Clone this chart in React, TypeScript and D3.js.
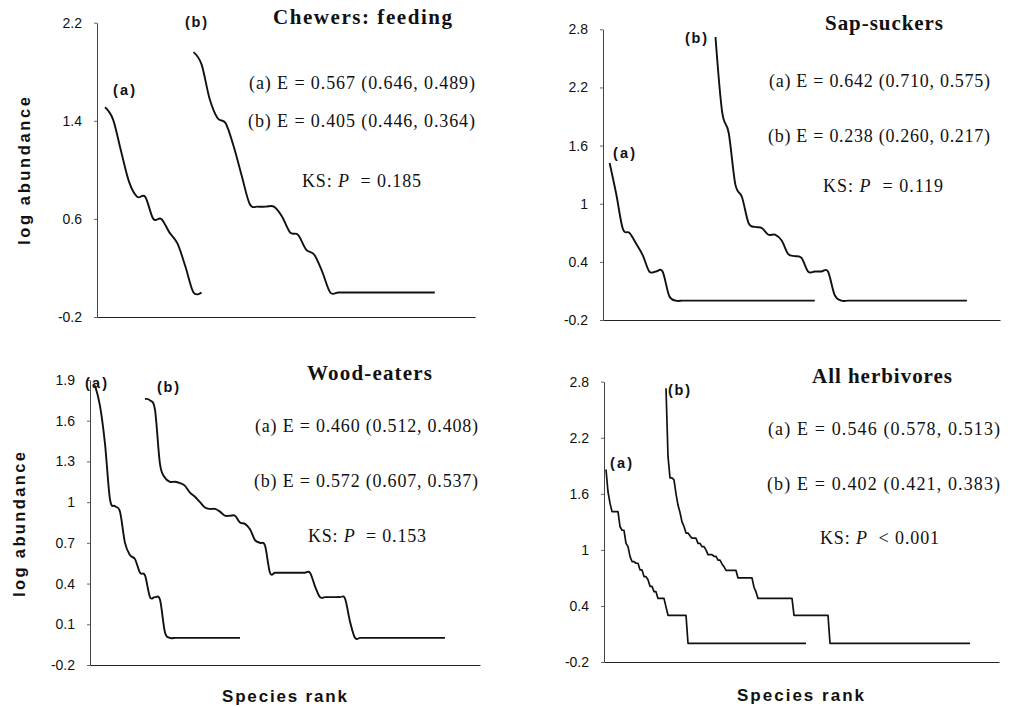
import React, { useEffect, useRef } from "react";
import * as d3 from "d3";

const W = 1011;
const H = 707;

// log abundance by species rank
const chewA = [1.51, 1.41, 1.15, 0.9, 0.78, 0.78, 0.6, 0.6, 0.49, 0.4, 0.21, 0, 0];
const chewB = [
  1.96, 1.86, 1.58, 1.42, 1.38, 1.19, 0.95, 0.72, 0.7, 0.7, 0.7, 0.62, 0.49, 0.47, 0.35, 0.31, 0.17,
  0, 0, 0, 0, 0, 0, 0, 0, 0, 0, 0, 0, 0, 0,
];
const sapA = [
  1.42, 1.1, 0.74, 0.7, 0.59, 0.47, 0.3, 0.3, 0.3, 0.05,
  0, 0, 0, 0, 0, 0, 0, 0, 0, 0, 0, 0, 0, 0, 0, 0, 0, 0, 0, 0, 0, 0,
];
const sapB = [
  2.72, 1.95, 1.73, 1.2, 1.07, 0.8, 0.76, 0.75, 0.68, 0.68, 0.62, 0.48, 0.46, 0.44, 0.3, 0.3, 0.3, 0.3, 0.06,
  0, 0, 0, 0, 0, 0, 0, 0, 0, 0, 0, 0, 0, 0, 0, 0, 0, 0, 0, 0,
];
const woodA = [
  1.86, 1.71, 1.43, 1.02, 0.97, 0.93, 0.7, 0.61, 0.58, 0.48, 0.46, 0.3, 0.3, 0.28, 0.04,
  0, 0, 0, 0, 0, 0, 0, 0, 0, 0, 0, 0, 0, 0, 0,
];
const woodB = [
  1.76, 1.75, 1.68, 1.28, 1.18, 1.15, 1.15, 1.14, 1.12, 1.07, 1.04, 1.0, 0.96, 0.95, 0.95, 0.93, 0.9, 0.9, 0.9,
  0.85, 0.84, 0.8, 0.72, 0.7, 0.68, 0.48, 0.48, 0.48, 0.48, 0.48, 0.48, 0.48, 0.48, 0.48, 0.38,
  0.3, 0.3, 0.3, 0.3, 0.3, 0.29, 0.12,
  0, 0, 0, 0, 0, 0, 0, 0, 0, 0, 0, 0, 0, 0, 0, 0, 0, 0, 0,
];
// all herbivores: abundance classes (log) and number of species in each
const herbALevels = [1.86, 1.62, 1.5, 1.41, 1.25, 1.21, 1.07, 1.035, 0.93, 0.875, 0.857, 0.786, 0.714, 0.68, 0.61, 0.553, 0.48, 0.39, 0.3, 0];
const herbACounts = [1, 1, 1, 4, 1, 2, 1, 1, 1, 2, 2, 2, 2, 1, 2, 2, 4, 1, 10, 60];
const herbBLevels = [2.73, 2.0, 1.77, 1.75, 1.6, 1.48, 1.4, 1.3, 1.25, 1.18, 1.15, 1.125, 1.07, 1.035, 1.0, 0.95, 0.93, 0.89, 0.85, 0.82, 0.78, 0.7, 0.6, 0.55, 0.48, 0.3, 0];
const herbBCounts = [1, 1, 2, 1, 1, 1, 1, 1, 1, 2, 1, 3, 2, 2, 1, 3, 2, 2, 1, 1, 6, 8, 1, 1, 18, 18, 71];

const chewTicks = [-0.2, 0.6, 1.4, 2.2];
const sapTicks = [-0.2, 0.4, 1, 1.6, 2.2, 2.8];
const woodTicks = [-0.2, 0.1, 0.4, 0.7, 1, 1.3, 1.6, 1.9];
const herbTicks = [-0.2, 0.4, 1, 1.6, 2.2, 2.8];

const titles = ["Chewers: feeding", "Sap-suckers", "Wood-eaters", "All herbivores"];
const statsA = ["(a) E = 0.567 (0.646, 0.489)", "(a) E = 0.642 (0.710, 0.575)", "(a) E = 0.460 (0.512, 0.408)", "(a) E = 0.546 (0.578, 0.513)"];
const statsB = ["(b) E = 0.405 (0.446, 0.364)", "(b) E = 0.238 (0.260, 0.217)", "(b) E = 0.572 (0.607, 0.537)", "(b) E = 0.402 (0.421, 0.383)"];
const ksP = ["= 0.185", "= 0.119", "= 0.153", "< 0.001"];

const expand = (levels: number[], counts: number[]) =>
  levels.flatMap((v, i) => Array(counts[i]).fill(v));

const sans = "'Liberation Sans', Arial, sans-serif";
const serif = "'Liberation Serif', 'Times New Roman', serif";

const panels = [
  {
    ticks: chewTicks, a: chewA, b: chewB, aStart: 1, bStart: 12, xMax: 47, smooth: true,
    box: { left: 97, right: 475, top: 22.7, bottom: 317 },
    title: [273, 24, 179], sa: [249, 88.5, 226], sb: [248, 127, 227], ks: [302, 187, 119],
    la: [113, 94.5], lb: [185, 26.5], yTitle: [30, 171, 148], xTitle: null,
  },
  {
    ticks: sapTicks, a: sapA, b: sapB, aStart: 1, bStart: 17, xMax: 60, smooth: true,
    box: { left: 603, right: 1000, top: 29.3, bottom: 320 },
    title: [825, 30, 118], sa: [769, 87, 221], sb: [768, 142, 222], ks: [823, 191.5, 120],
    la: [613, 158], lb: [685, 42.5], yTitle: null, xTitle: null,
  },
  {
    ticks: woodTicks, a: woodA, b: woodB, aStart: 1, bStart: 11, xMax: 78, smooth: true,
    box: { left: 90, right: 480, top: 380, bottom: 665 },
    title: [307, 380, 125], sa: [255, 432, 223], sb: [254, 486.5, 224], ks: [308, 542, 118],
    la: [85, 388], lb: [157, 392], yTitle: [25, 524.5, 145], xTitle: [222, 701.5, 125],
  },
  {
    ticks: herbTicks, a: expand(herbALevels, herbACounts), b: expand(herbBLevels, herbBCounts),
    aStart: 1, bStart: 31, xMax: 197.5, smooth: false,
    box: { left: 604, right: 999, top: 381.7, bottom: 662 },
    title: [812, 383, 140], sa: [768, 435, 232], sb: [767, 490, 233], ks: [820, 544, 119],
    la: [610, 467.5], lb: [668, 395], yTitle: null, xTitle: [737, 700.5, 127],
  },
];

const fmt = (v: number) => String(+v.toFixed(1));

export default function App() {
  const svgRef = useRef<SVGSVGElement>(null);

  useEffect(() => {
    const svg = d3.select(svgRef.current);
    svg.selectAll("*").remove();
    svg.append("rect").attr("width", W).attr("height", H).attr("fill", "#fff");

    panels.forEach((p, k) => {
      const x = d3.scaleLinear().domain([0, p.xMax]).range([p.box.left, p.box.right]);
      const y = d3
        .scaleLinear()
        .domain([p.ticks[0], p.ticks[p.ticks.length - 1]])
        .range([p.box.bottom, p.box.top]);
      const g = svg.append("g");

      // y axis
      const ya = g
        .append("g")
        .attr("transform", `translate(${p.box.left},0)`)
        .call(
          d3.axisLeft(y).tickValues(p.ticks).tickSize(3).tickSizeOuter(0).tickPadding(12).tickFormat((d) => fmt(+d))
        );
      ya.select(".domain").attr("stroke", "#444").attr("stroke-width", 1);
      ya.selectAll(".tick line").attr("stroke", "#666");
      ya.selectAll(".tick text").attr("font-family", sans).attr("font-size", 14).attr("fill", "#111");

      // x axis, no ticks
      const xa = g
        .append("g")
        .attr("transform", `translate(0,${p.box.bottom})`)
        .call(d3.axisBottom(x).tickValues([]).tickSizeOuter(0));
      xa.select(".domain").attr("stroke", "#222").attr("stroke-width", 1.2);

      // the two rank-abundance curves
      [
        { vals: p.a, start: p.aStart },
        { vals: p.b, start: p.bStart },
      ].forEach((s) => {
        const line = d3
          .line<number>()
          .x((d, i) => x(s.start + i))
          .y((d) => y(d))
          .curve(p.smooth ? d3.curveCatmullRom.alpha(0) : d3.curveLinear);
        g.append("path")
          .attr("d", line(s.vals))
          .attr("fill", "none")
          .attr("stroke", "#111")
          .attr("stroke-width", p.smooth ? 1.9 : 1.7)
          .attr("stroke-linejoin", "round");
      });

      // title
      g.append("text")
        .attr("x", p.title[0]).attr("y", p.title[1])
        .attr("textLength", p.title[2]).attr("lengthAdjust", "spacing")
        .attr("font-family", serif).attr("font-weight", "bold").attr("font-size", 21).attr("fill", "#111")
        .text(titles[k]);

      // evenness statistics
      [
        [p.sa, statsA[k]],
        [p.sb, statsB[k]],
      ].forEach(([pos, txt]: any) => {
        g.append("text")
          .attr("x", pos[0]).attr("y", pos[1])
          .attr("textLength", pos[2]).attr("lengthAdjust", "spacing")
          .attr("font-family", serif).attr("font-size", 18).attr("fill", "#111")
          .text(txt);
      });

      const ks = g.append("text")
        .attr("x", p.ks[0]).attr("y", p.ks[1])
        .attr("textLength", p.ks[2]).attr("lengthAdjust", "spacing")
        .attr("font-family", serif).attr("font-size", 18).attr("fill", "#111");
      ks.append("tspan").text("KS:\u00a0");
      ks.append("tspan").attr("font-style", "italic").text("P");
      ks.append("tspan").text("\u00a0\u00a0" + ksP[k]);

      // (a) / (b) labels
      [
        [p.la, "(a)"],
        [p.lb, "(b)"],
      ].forEach(([pos, txt]: any) => {
        g.append("text")
          .attr("x", pos[0]).attr("y", pos[1])
          .attr("textLength", 22).attr("lengthAdjust", "spacing")
          .attr("font-family", sans).attr("font-weight", "bold").attr("font-size", 14.5).attr("fill", "#111")
          .text(txt);
      });

      if (p.yTitle) {
        g.append("text")
          .attr("transform", `translate(${p.yTitle[0]},${p.yTitle[1]}) rotate(-90)`)
          .attr("text-anchor", "middle")
          .attr("textLength", p.yTitle[2]).attr("lengthAdjust", "spacing")
          .attr("font-family", sans).attr("font-weight", "bold").attr("font-size", 16.5).attr("fill", "#111")
          .text("log abundance");
      }
      if (p.xTitle) {
        g.append("text")
          .attr("x", p.xTitle[0]).attr("y", p.xTitle[1])
          .attr("textLength", p.xTitle[2]).attr("lengthAdjust", "spacing")
          .attr("font-family", sans).attr("font-weight", "bold").attr("font-size", 17).attr("fill", "#111")
          .text("Species rank");
      }
    });
  }, []);

  return (
    <div style={{ position: "absolute", left: 0, top: 0 }}>
      <svg ref={svgRef} width={W} height={H} style={{ display: "block" }} />
    </div>
  );
}
